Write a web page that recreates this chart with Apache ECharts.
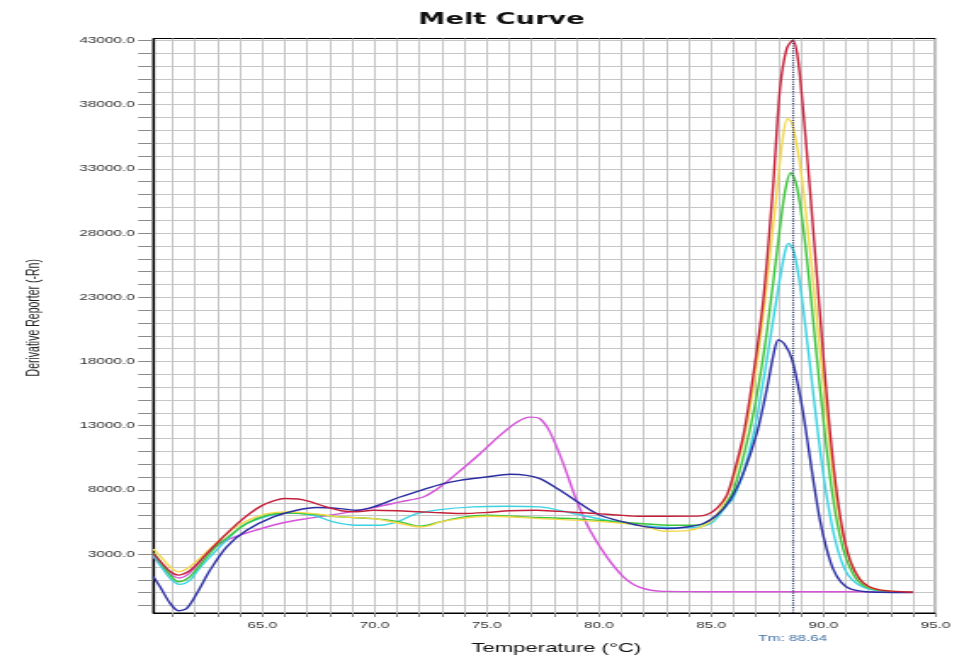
<!DOCTYPE html>
<html>
<head>
<meta charset="utf-8">
<script src="https://cdn.jsdelivr.net/npm/echarts@6/dist/echarts.min.js"></script>
<style>
  html, body { margin: 0; padding: 0; background: #fff; }
  #wrap { width: 964px; height: 660px; overflow: hidden; background: #fff; }
  /* the plot is laid out narrow and widened horizontally, like the instrument's export */
  #chart { width: 567px; height: 660px; transform: scaleX(1.700176); transform-origin: 0 0; }
</style>
</head>
<body>
<div id="wrap"><div id="chart"></div></div>
<script>
// Melt curve: derivative reporter (-Rn) per well against temperature (°C)
const tempTicks = [61,62,63,64,65,66,67,68,69,70,71,72,73,74,75,76,77,78,79,80,81,82,83,84,85,86,87,88,89,90,91,92,93,94,95];
const tempLabels = [65,70,75,80,85,90,95];
const derivTicks = [-1000,0,1000,2000,3000,4000,5000,6000,7000,8000,9000,10000,11000,12000,13000,14000,15000,16000,17000,18000,19000,20000,21000,22000,23000,24000,25000,26000,27000,28000,29000,30000,31000,32000,33000,34000,35000,36000,37000,38000,39000,40000,41000,42000,43000];
const derivLabels = [3000,8000,13000,18000,23000,28000,33000,38000,43000];
const tmValue = 88.64;

const wellRed = [[60.14,3050],[60.5,2350],[60.9,1650],[61.26,1370],[61.7,1650],[62.1,2250],[62.52,3050],[63.0,3900],[63.5,4750],[64.0,5550],[64.5,6250],[65.0,6800],[65.5,7150],[66.0,7330],[66.6,7300],[67.2,7050],[67.8,6700],[68.5,6380],[69.2,6300],[69.95,6420],[71.0,6380],[72.0,6300],[73.0,6220],[74.0,6170],[75.0,6250],[76.0,6380],[77.2,6420],[78.2,6330],[79.0,6250],[79.9,6160],[80.8,6050],[81.8,5950],[83.0,5950],[84.4,5960],[84.9,6150],[85.3,6650],[85.7,7600],[86.0,9220],[86.43,12190],[86.88,16950],[87.33,22900],[87.77,31830],[88.07,39260],[88.37,42380],[88.64,43000],[88.85,41800],[89.1,37600],[89.4,31500],[89.7,25000],[90.0,18500],[90.3,12500],[90.6,7800],[90.9,4500],[91.2,2500],[91.6,1100],[92.0,500],[92.5,220],[93.0,120],[93.5,70],[94.0,40]];
const wellYellow = [[60.14,3400],[60.5,2750],[60.9,2000],[61.26,1630],[61.7,1950],[62.1,2500],[62.52,3180],[63.0,3950],[63.5,4700],[64.0,5300],[64.5,5750],[65.2,6160],[66.09,6290],[67.27,6160],[68.46,5900],[69.95,5770],[71.14,5390],[72.03,5120],[72.5,5250],[72.92,5510],[73.8,5770],[75.0,5950],[76.19,5900],[77.37,5770],[78.86,5650],[80.35,5500],[81.83,5250],[83.0,4780],[84.0,4850],[84.6,5150],[85.0,5600],[85.35,6300],[85.7,7500],[86.0,8900],[86.5,12300],[87.0,17300],[87.5,24300],[87.9,30800],[88.15,34800],[88.4,36900],[88.6,36600],[88.9,34000],[89.2,30000],[89.5,25000],[89.8,19800],[90.1,14500],[90.4,9800],[90.7,6000],[91.0,3600],[91.3,2000],[91.7,900],[92.1,400],[92.6,200],[93.2,100],[94.0,40]];
const wellGreen = [[60.14,3100],[60.5,2300],[60.9,1350],[61.26,850],[61.7,1150],[62.1,1900],[62.52,2790],[63.0,3700],[63.41,4250],[64.3,5390],[65.2,6030],[66.09,6210],[67.27,6110],[68.46,5900],[69.95,5770],[71.14,5510],[72.03,5180],[72.92,5510],[73.8,5850],[75.0,6030],[76.19,5950],[77.37,5850],[78.86,5770],[80.35,5590],[81.83,5390],[83.3,5250],[84.36,5250],[84.9,5550],[85.3,6100],[85.7,7000],[86.0,8000],[86.5,11000],[87.0,15000],[87.5,20500],[88.0,27500],[88.3,31300],[88.55,32700],[88.8,31800],[89.1,28500],[89.4,23800],[89.7,18500],[90.0,13500],[90.3,9000],[90.6,5600],[90.9,3300],[91.2,1900],[91.5,1000],[91.9,450],[92.4,200],[93.0,100],[94.0,40]];
const wellCyan = [[60.14,2920],[60.5,2000],[60.9,1100],[61.3,650],[61.78,980],[62.1,1700],[62.52,2530],[63.0,3400],[63.41,4090],[64.15,5250],[65.2,5950],[66.09,6210],[67.27,6030],[68.16,5510],[69.2,5250],[70.24,5250],[70.99,5510],[71.88,6160],[72.92,6470],[74.4,6680],[75.9,6730],[77.37,6680],[78.86,6160],[80.35,5640],[81.83,5250],[83.3,5070],[84.5,5120],[85.0,5400],[85.3,5900],[85.7,6800],[86.0,7400],[86.5,9700],[87.0,13300],[87.5,18300],[88.0,23800],[88.3,26600],[88.45,27200],[88.7,26500],[89.0,23500],[89.3,19300],[89.6,14800],[89.9,10500],[90.2,7000],[90.5,4300],[90.8,2500],[91.1,1400],[91.5,700],[92.0,300],[92.6,130],[93.2,70],[94.0,40]];
const wellNavy = [[60.14,1240],[60.44,460],[60.89,-830],[61.26,-1400],[61.63,-1220],[62.08,-50],[62.67,1760],[63.41,3570],[64.3,4860],[65.49,5900],[66.53,6420],[67.42,6630],[68.46,6550],[69.2,6420],[69.95,6680],[71.14,7450],[72.17,8030],[73.07,8490],[73.8,8750],[75.0,9010],[76.04,9220],[76.78,9140],[77.37,8880],[78.27,7970],[79.16,6940],[80.05,6030],[81.09,5510],[82.13,5120],[83.02,5000],[83.91,5120],[84.65,5390],[85.25,6030],[85.84,7200],[86.43,9270],[87.03,12380],[87.5,16000],[87.8,18700],[88.0,19700],[88.25,19400],[88.6,18200],[89.0,15000],[89.26,12200],[89.55,8800],[89.85,5650],[90.15,3400],[90.45,1800],[90.8,800],[91.2,300],[91.9,70],[92.5,30],[93.2,20],[94.0,20]];
const wellMagenta = [[60.14,2800],[60.5,2100],[60.9,1450],[61.3,1150],[61.7,1450],[62.1,2200],[62.67,3310],[63.41,4090],[64.45,4730],[65.79,5390],[66.98,5770],[68.46,6160],[69.95,6630],[71.14,7070],[72.17,7450],[72.92,8230],[73.66,9270],[74.7,10820],[75.59,12250],[76.34,13280],[76.93,13670],[77.37,13540],[77.82,12500],[78.41,10050],[79.0,7200],[79.6,4860],[80.35,2790],[81.09,1240],[81.83,410],[82.87,100],[85.0,80],[88.0,80],[91.0,70],[94.0,50]];

const wells = [
  { name: 'Well 6', data: wellMagenta, color: '#d455d8' },
  { name: 'Well 4', data: wellCyan, color: '#3cd2e2' },
  { name: 'Well 3', data: wellGreen, color: '#3cc43c' },
  { name: 'Well 2', data: wellYellow, color: '#f2d84a' },
  { name: 'Well 5', data: wellNavy, color: '#2b2ea0' },
  { name: 'Well 1', data: wellRed, color: '#c4203a' }
];

const labelFont = '"Liberation Sans", Arial, sans-serif';

const chart = echarts.init(document.getElementById('chart'), null, { renderer: 'canvas' });

const series = wells.map(w => ({
  name: w.name,
  type: 'line',
  data: w.data,
  smooth: 0.3,
  showSymbol: false,
  symbol: 'none',
  lineStyle: { color: w.color, width: 1.4 },
  itemStyle: { color: w.color },
  emphasis: { disabled: true },
  z: 3
}));

// Tm marker: dotted vertical at the melting temperature
series.push({
  name: 'Tm',
  type: 'line',
  data: [],
  markLine: {
    silent: true,
    symbol: ['none', 'none'],
    lineStyle: { color: '#34406e', type: 'dotted', width: 1.2 },
    label: {
      show: true,
      position: 'start',
      distance: 21,
      formatter: () => 'Tm: ' + tmValue.toFixed(2),
      color: '#3f6fa6',
      fontFamily: labelFont,
      fontSize: 9
    },
    data: [{ xAxis: tmValue }]
  },
  z: 4
});

chart.setOption({
  animation: false,
  backgroundColor: '#fff',
  title: {
    text: 'Melt Curve',
    left: 290,
    top: 7,
    textAlign: 'center',
    textStyle: { fontFamily: '"DejaVu Sans", sans-serif', fontWeight: 'bold', fontSize: 16, color: '#111' }
  },
  grid: {
    left: 90.17, right: 16.77, top: 38.5, bottom: 46.7,
    show: true, borderColor: '#000', borderWidth: 1, backgroundColor: '#fff'
  },
  xAxis: {
    type: 'value',
    min: 60.14,
    max: 95,
    name: 'Temperature (°C)',
    nameLocation: 'middle',
    nameGap: 29,
    nameTextStyle: { fontFamily: labelFont, fontSize: 13, color: '#111', padding: [0, 0, 0, 14] },
    axisLine: { show: true, onZero: false, lineStyle: { color: '#000', width: 1 } },
    axisTick: { show: true, length: 4, customValues: tempTicks, lineStyle: { color: '#8a8a8a' } },
    axisLabel: {
      customValues: tempLabels,
      margin: 8,
      formatter: v => v.toFixed(1),
      fontFamily: labelFont, fontSize: 9, color: '#333'
    },
    splitLine: { show: true, lineStyle: { color: '#c6c6c6', width: 1 } }
  },
  yAxis: {
    type: 'value',
    min: -1580,
    max: 43150,
    name: 'Derivative Reporter (-Rn)',
    nameLocation: 'middle',
    nameGap: 65,
    nameRotate: 90,
    nameTextStyle: { fontFamily: labelFont, fontSize: 10.5, color: '#222', padding: [0, 0, 0, 16] },
    axisLine: { show: true, onZero: false, lineStyle: { color: '#000', width: 1.2 } },
    axisTick: { show: true, length: 9, customValues: derivTicks, lineStyle: { color: '#8a8a8a' } },
    axisLabel: {
      customValues: derivLabels,
      margin: 11,
      formatter: v => v.toFixed(1),
      fontFamily: labelFont, fontSize: 9, color: '#333'
    },
    splitLine: { show: true, lineStyle: { color: '#c6c6c6', width: 1 } }
  },
  series: series
});
</script>
</body>
</html>
